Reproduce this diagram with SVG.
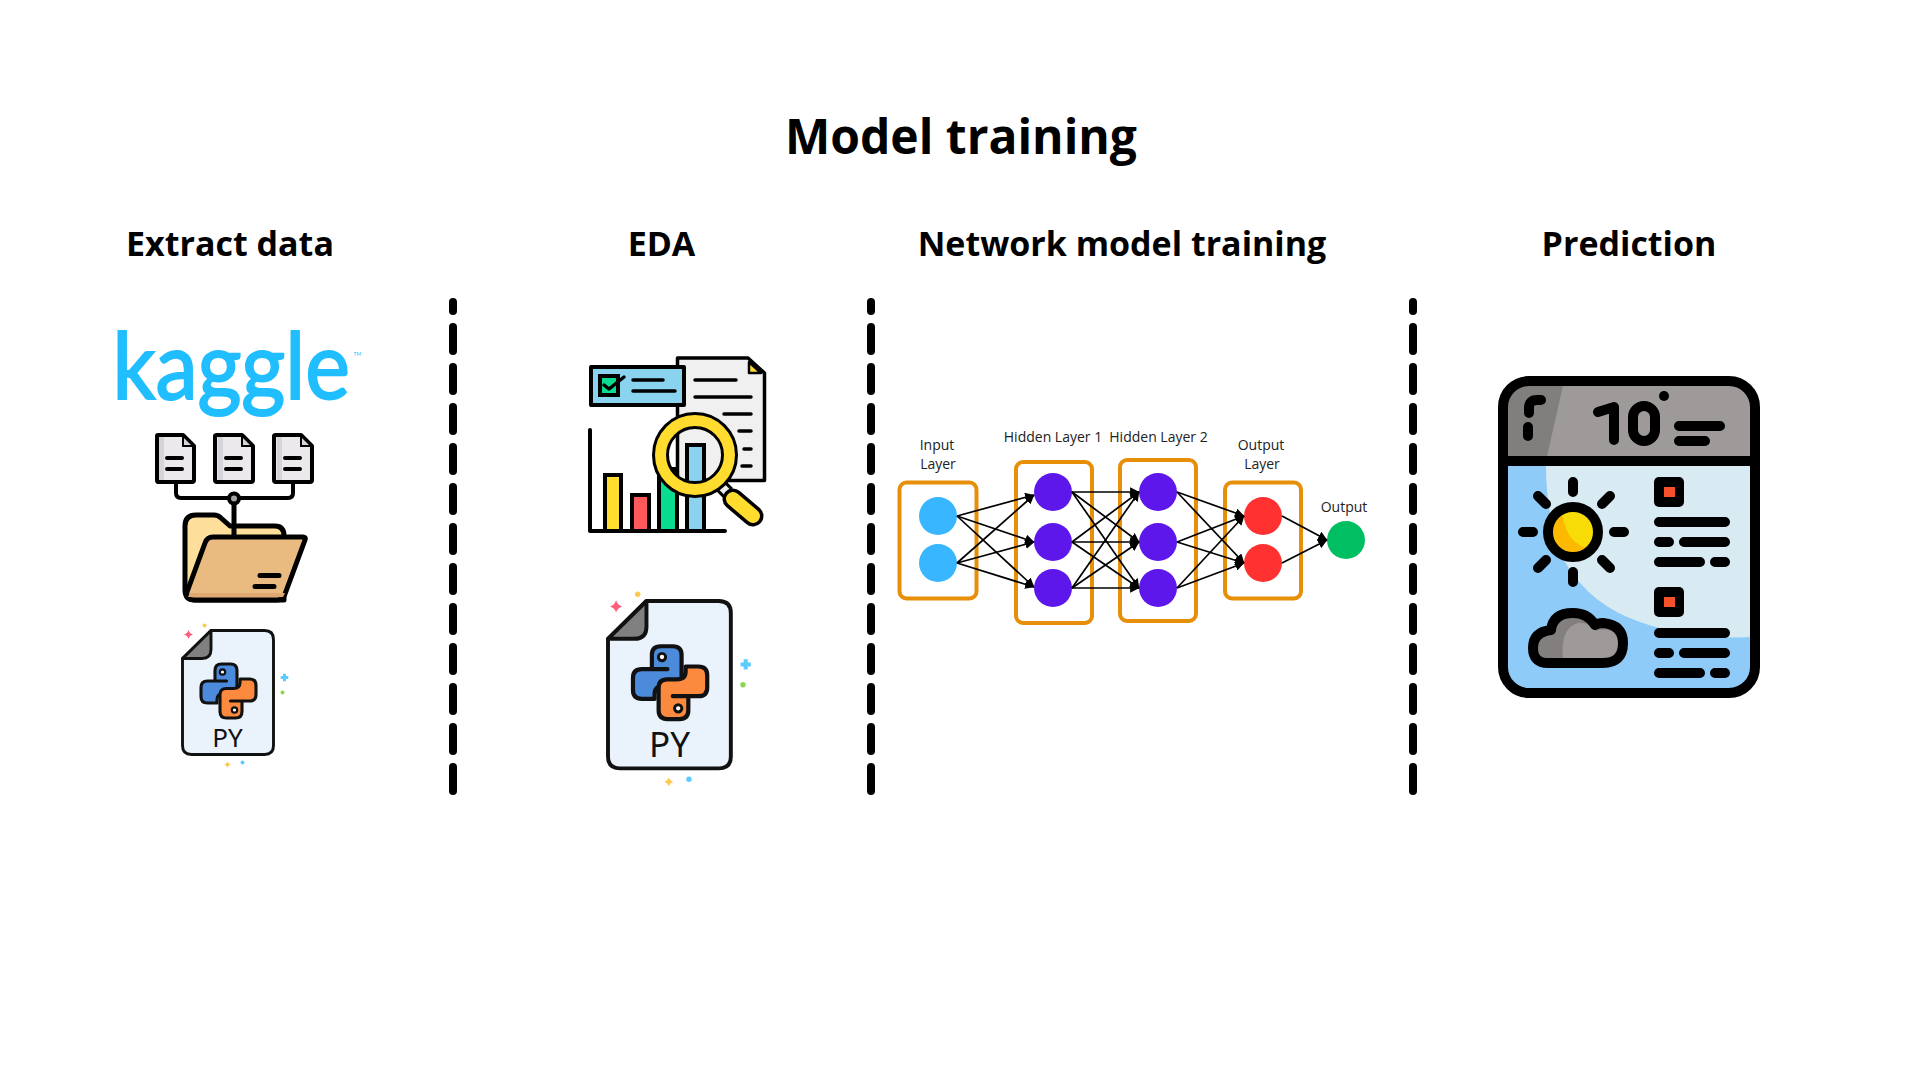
<svg xmlns="http://www.w3.org/2000/svg" width="1920" height="1080" viewBox="0 0 1920 1080">
<style>
text{font-family:"Open Sans","Noto Sans",sans-serif}
.h{font-weight:700;fill:#000;text-anchor:middle}
.t{font-size:48px}.s{font-size:34px}
.n{font-size:14px;fill:#222;text-anchor:middle}
.py{font-family:"Noto Sans",sans-serif;fill:#111;text-anchor:middle}
.div{stroke:#000;stroke-width:8;stroke-linecap:round;stroke-dasharray:24 16;stroke-dashoffset:15;fill:none}
.k{stroke:#000;fill:none;stroke-linecap:round;stroke-linejoin:round}
.box{fill:none;stroke:#E78F08;stroke-width:4}
.c{stroke:#000;stroke-width:1.7;fill:none;marker-end:url(#ah)}
.doc{fill:#EBE9EC;stroke:#000;stroke-width:4;stroke-linejoin:round}
</style>
<defs>
<marker id="ah" viewBox="0 0 10 10" refX="9.500" refY="5" markerWidth="5.500" markerHeight="5.500" orient="auto"><path d="M0 0L10 5L0 10Z" fill="#000"/></marker>
<path id="star" d="M0-1Q.22-.22 1 0Q.22.22 0 1Q-.22.22-1 0Q-.22-.22 0-1Z"/>
<path id="plus" d="M-.4-1H.4V-.4H1V.4H.4V1H-.4V.4H-1V-.4H-.4Z"/>
<path id="snake" d="M32.500 50.500V40Q32.500 33.500 39 33.500H48Q54.500 33.500 54.500 40V57Q54.500 63 48 63H41Q34.500 63 34.500 69V72.500H25Q18.500 72.500 18.500 66V57Q18.500 50.500 25 50.500ZM32.500 50.500H44" stroke="#111" stroke-width="3.100" stroke-linejoin="round" stroke-linecap="round"/>
<g id="pyfile">
<path d="M28.500 0H82Q91 0 91 9V115Q91 124 82 124H9Q0 124 0 115V28Z" fill="#EAF2FB" stroke="#111" stroke-width="2.900" stroke-linejoin="round"/>
<path d="M28.500 0V19Q28.500 28 19.500 28H0Z" fill="#808080" stroke="#111" stroke-width="2.900" stroke-linejoin="round"/>
<use href="#snake" fill="#4C8BDB"/>
<use href="#snake" fill="#FB8A3F" transform="rotate(180 46 60.500)"/>
<circle cx="40" cy="41.500" r="2.700" fill="#fff" stroke="#111" stroke-width="2.200"/>
<circle cx="52" cy="79.500" r="2.700" fill="#fff" stroke="#111" stroke-width="2.200"/>
<use href="#star" fill="#FF5D7E" transform="translate(6 4) scale(4.500)"/>
<use href="#plus" fill="#5CCBFF" transform="translate(102 47) scale(3.800)"/>
<use href="#star" fill="#FFC94D" transform="translate(45 134) scale(3.200)"/>
<circle cx="22" cy="-5" r="2" fill="#FFC94D"/>
<circle cx="100" cy="62" r="2" fill="#8BD650"/>
<circle cx="60" cy="132" r="2" fill="#5CCBFF"/>
</g>
</defs>
<rect width="1920" height="1080" fill="#fff"/>
<text class="h t" x="961" y="154">Model training</text>
<text class="h s" x="230" y="256">Extract data</text>
<text class="h s" x="661.500" y="256">EDA</text>
<text class="h s" x="1122" y="256">Network model training</text>
<text class="h s" x="1629" y="256">Prediction</text>
<g id="dividers">
<path class="div" d="M453 302V791"/>
<path class="div" d="M871 302V791"/>
<path class="div" d="M1413 302V791"/>
</g>
<g id="kaggle">
<text transform="translate(112.500 399) scale(.9 1)" font-size="94" style="font-family:Lato,sans-serif" fill="#20BEFF" stroke="#20BEFF" stroke-width="2">kaggle</text>
<text x="353.500" y="356" font-size="5" style="font-family:Lato,sans-serif" fill="#20BEFF">TM</text>
</g>
<g id="folder-icon">
<g id="docs">
<path class="doc" d="M158 435H183L194 446V480Q194 482 192 482H158Q157 482 157 480V436Q157 435 158 435Z"/>
<path class="doc" d="M217 435H242L253 446V480Q253 482 251 482H217Q215 482 215 480V436Q215 435 217 435Z"/>
<path class="doc" d="M276 435H301L312 446V480Q312 482 310 482H276Q274 482 274 480V436Q274 435 276 435Z"/>
<path d="M159 437h5v43h-5zM218 437h5v43h-5zM277 437h5v43h-5z" fill="#D6D4D8"/>
<path d="M183 437V446H192M242 437V446H251M301 437V446H310" fill="#D6D4D8" stroke="#000" stroke-width="2"/>
</g>
<path class="k" stroke-width="4" d="M167 458H182M167 469H182M226 458H241M226 469H241M285 458H300M285 469H300"/>
<path class="k" stroke-width="4" d="M176 484V493Q176 498 181 498H288Q293 498 293 493V484"/>
<path d="M185 590V526Q185 515 196 515H214Q218 515 221 518L230 526H275Q284 526 284 536V600H195Q185 600 185 590Z" fill="#FDDF9B" stroke="#000" stroke-width="5" stroke-linejoin="round"/>
<path d="M187 592L205 543Q207 537 213 537H303Q306 537 305 540L285 594Q283 600 277 600H195Q185 600 187 592Z" fill="#E9BB80" stroke="#000" stroke-width="5" stroke-linejoin="round"/>
<path d="M190 593L188 597H283L285 593Z" fill="#E0A872"/>
<path class="k" stroke-width="5" d="M234 499V534"/>
<circle cx="234" cy="498.500" r="5" fill="#A5A3A8" stroke="#000" stroke-width="4"/>
<path class="k" stroke-width="5" d="M260 575.500H279M255 586.500H274"/>
</g>
<g id="py-file-1">
<use href="#pyfile" transform="translate(182.500 630.500)"/>
<text class="py" x="227.500" y="747" font-size="26">PY</text>
</g>
<g id="chart-icon">
<path d="M677.500 358H748L764.500 373V480.500H677.500Z" fill="#F0F0F0" stroke="#000" stroke-width="3.500" stroke-linejoin="round"/>
<path d="M749 362V373H761Z" fill="#FFDC2E" stroke="#000" stroke-width="2.500" stroke-linejoin="round"/>
<rect x="591" y="367" width="93" height="38" fill="#8AD3EE" stroke="#000" stroke-width="4" stroke-linejoin="round"/>
<rect x="600" y="376" width="18" height="19" fill="#0ADC8F" stroke="#000" stroke-width="4"/>
<path class="k" stroke-width="3.500" d="M604 385L609 389L624 377M633 380H663M633 391H675M695 380H736M695 397H751M724 414H751M739 431H751M744 449H751M742 466H751"/>
<path d="M590 430V531H725" class="k" stroke-width="4"/>
<path d="M605 531V475H621V531Z" fill="#FFDC2E" stroke="#000" stroke-width="4"/>
<path d="M632 531V495H649V531Z" fill="#FF5858" stroke="#000" stroke-width="4"/>
<path d="M659 531V469H677V531Z" fill="#0ADC8F" stroke="#000" stroke-width="4"/>
<path d="M687 531V445H704V531Z" fill="#8AD3EE" stroke="#000" stroke-width="4"/>
<path d="M719 484L728 493" stroke="#000" stroke-width="14"/>
<path d="M720 485L727 492" stroke="#eee" stroke-width="8"/>
<path d="M733 499L753 516" stroke="#000" stroke-width="21" stroke-linecap="round"/>
<path d="M733 499L753 516" stroke="#FFDC2E" stroke-width="14" stroke-linecap="round"/>
<circle cx="695" cy="455" r="34.500" fill="none" stroke="#000" stroke-width="17"/>
<circle cx="695" cy="455" r="34.500" fill="none" stroke="#FFDC2E" stroke-width="11"/>
</g>
<g id="py-file-2">
<use href="#pyfile" transform="translate(608 601) scale(1.350)"/>
<text class="py" x="669.500" y="757" font-size="35">PY</text>
</g>
<g id="input-layer">
<rect class="box" x="899.500" y="482.500" width="77" height="116" rx="7"/>
<circle cx="938" cy="516" r="19" fill="#38B6FF"/><circle cx="938" cy="563" r="19" fill="#38B6FF"/>
<text class="n" x="937" y="450">Input</text><text class="n" x="938" y="469">Layer</text>
</g>
<g id="hidden-layer-1">
<rect class="box" x="1016" y="462" width="76" height="161" rx="7"/>
<circle cx="1053" cy="492" r="19" fill="#5E17EB"/><circle cx="1053" cy="542" r="19" fill="#5E17EB"/><circle cx="1053" cy="588" r="19" fill="#5E17EB"/>
<text class="n" x="1053" y="442">Hidden Layer 1</text>
</g>
<g id="hidden-layer-2">
<rect class="box" x="1120" y="460" width="76" height="161" rx="7"/>
<circle cx="1158" cy="492" r="19" fill="#5E17EB"/><circle cx="1158" cy="542" r="19" fill="#5E17EB"/><circle cx="1158" cy="588" r="19" fill="#5E17EB"/>
<text class="n" x="1158.500" y="442">Hidden Layer 2</text>
</g>
<g id="output-layer">
<rect class="box" x="1225" y="482.500" width="76" height="116" rx="7"/>
<circle cx="1263" cy="516" r="19" fill="#FF3131"/><circle cx="1263" cy="563" r="19" fill="#FF3131"/>
<text class="n" x="1261" y="450">Output</text><text class="n" x="1262" y="469">Layer</text>
</g>
<g id="output">
<circle cx="1346" cy="540" r="19" fill="#00BF63"/>
<text class="n" x="1344" y="512">Output</text>
</g>
<g id="connectors">
<path class="c" d="M957 516L1034 495"/><path class="c" d="M957 516L1034 542"/><path class="c" d="M957 516L1034 587"/>
<path class="c" d="M957 563L1034 495"/><path class="c" d="M957 563L1034 542"/><path class="c" d="M957 563L1034 587"/>
<path class="c" d="M1072 492H1139"/><path class="c" d="M1072 492L1139 542"/><path class="c" d="M1072 492L1139 588"/>
<path class="c" d="M1072 542L1139 492"/><path class="c" d="M1072 542H1139"/><path class="c" d="M1072 542L1139 588"/>
<path class="c" d="M1072 588L1139 492"/><path class="c" d="M1072 588L1139 542"/><path class="c" d="M1072 588H1139"/>
<path class="c" d="M1177 492L1244 516"/><path class="c" d="M1177 492L1244 563"/><path class="c" d="M1177 542L1244 516"/>
<path class="c" d="M1177 542L1244 563"/><path class="c" d="M1177 588L1244 516"/><path class="c" d="M1177 588L1244 563"/>
<path class="c" d="M1282 516L1327 540"/><path class="c" d="M1282 563L1327 540"/>
</g>
<g id="weather-icon">
<rect x="1503" y="381" width="252" height="312" rx="26" fill="#8ECBF9"/>
<path d="M1546 466Q1546 520 1565 562Q1590 605 1640 622Q1690 640 1755 637V466Z" fill="#D9EBF2"/>
<path d="M1503 461V407Q1503 381 1529 381H1729Q1755 381 1755 407V461Z" fill="#9E9A99"/>
<path d="M1503 461V407Q1503 381 1529 381H1564L1546 461Z" fill="#807F7E"/>
<rect x="1503" y="381" width="252" height="312" rx="26" fill="none" stroke="#000" stroke-width="10"/>
<path d="M1503 461H1755" stroke="#000" stroke-width="10"/>
<path class="k" stroke-width="10" d="M1529 413V408Q1529 400 1537 400H1541M1528 427V436M1598 412L1614 407V440M1679 426H1720M1679 441H1705"/>
<rect x="1633" y="406" width="22" height="35" rx="11" fill="none" stroke="#000" stroke-width="10"/>
<circle cx="1664" cy="396" r="5" fill="#000"/>
<circle cx="1573" cy="532" r="25" fill="#F7DC08"/><path d="M1562 512A22 22 0 0 0 1592 549Q1566 546 1562 512Z" fill="#FDB900"/>
<circle cx="1573" cy="532" r="25" fill="none" stroke="#000" stroke-width="10"/>
<path class="k" stroke-width="10" d="M1573 482V492M1573 572V582M1538 496L1546 504M1610 496L1602 504M1546 560L1538 568M1602 560L1610 568M1523 532H1533M1614 532H1624"/>
<path d="M1548 663Q1533 663 1533 648Q1533 632 1551 630Q1553 613 1573 613Q1588 613 1595 625Q1598 623 1603 623Q1623 625 1623 643Q1623 663 1603 663Z" fill="#837F7E"/>
<path d="M1563 658Q1560 628 1578 623Q1590 622 1595 631Q1618 625 1618 645Q1617 657 1605 658Z" fill="#9E9A99"/>
<path d="M1548 663Q1533 663 1533 648Q1533 632 1551 630Q1553 613 1573 613Q1588 613 1595 625Q1598 623 1603 623Q1623 625 1623 643Q1623 663 1603 663Z" fill="none" stroke="#000" stroke-width="10" stroke-linejoin="round"/>
<rect x="1654" y="477" width="30" height="30" rx="5" fill="#000"/><rect x="1664" y="487" width="11" height="10" fill="#F6512B"/>
<rect x="1654" y="587" width="30" height="30" rx="5" fill="#000"/><rect x="1664" y="597" width="11" height="10" fill="#F6512B"/>
<path class="k" stroke-width="10" d="M1659 522H1725M1659 542H1669M1684 542H1725M1659 562H1700M1715 562H1725M1659 633H1725M1659 653H1669M1684 653H1725M1659 673H1700M1715 673H1725"/>
</g>
</svg>
